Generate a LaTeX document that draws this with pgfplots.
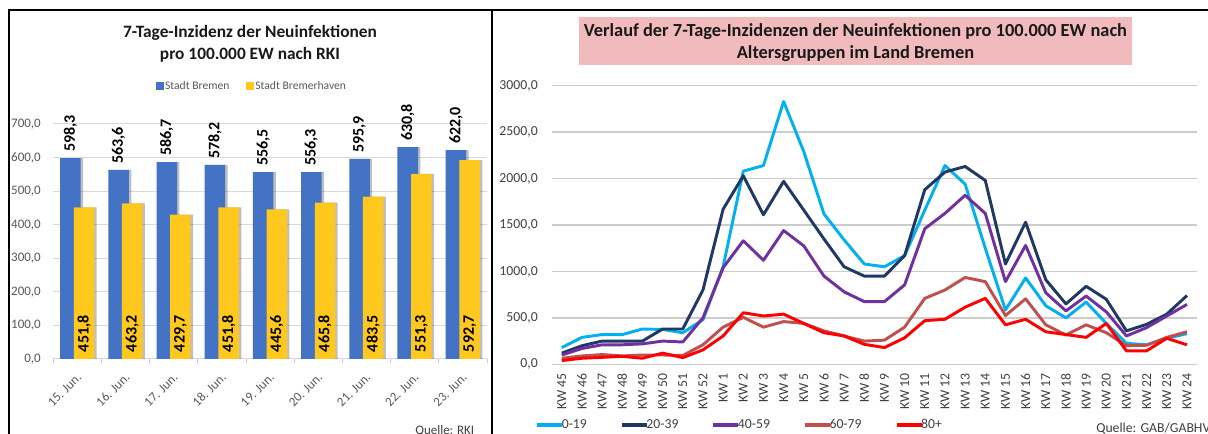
\documentclass[border=0pt]{standalone}
\usepackage{fontspec}
\setmainfont{Carlito}
\usepackage{pgfplots}
\usepackage{pgfplotstable}
\pgfplotsset{compat=1.18}
\usetikzlibrary{shadows}
\definecolor{cblue}{HTML}{4472C4}
\definecolor{cyel}{HTML}{FFC81F}
\definecolor{c1}{HTML}{00B0F0}
\definecolor{c2}{HTML}{1F3864}
\definecolor{c3}{HTML}{7030A0}
\definecolor{c4}{HTML}{C0504D}
\definecolor{c5}{HTML}{FF0000}
\definecolor{txt}{HTML}{595959}
\definecolor{txtb}{HTML}{404040}
\definecolor{pinkbox}{HTML}{F1BBBD}

\pgfplotstableread{
x bremen bhv z
0 598.3 451.8 0
1 563.6 463.2 0
2 586.7 429.7 0
3 578.2 451.8 0
4 556.5 445.6 0
5 556.3 465.8 0
6 595.9 483.5 0
7 630.8 551.3 0
8 622.0 592.7 0
}\tleft

\pgfplotstableread{
i a b c d e
0 180 120 100 65 40
1 290 200 170 90 65
2 320 250 210 105 75
3 320 250 210 90 85
4 380 250 220 100 65
5 375 380 250 100 120
6 340 380 240 95 72
7 480 800 500 210 155
8 1050 1670 1040 400 305
9 2080 2030 1330 505 555
10 2140 1610 1120 400 520
11 2830 1970 1440 460 540
12 2290 1660 1275 440 440
13 1620 1350 950 360 340
14 1340 1050 780 305 305
15 1080 950 675 250 215
16 1050 950 675 260 180
17 1170 1170 855 400 285
18 1660 1880 1460 710 470
19 2140 2070 1625 800 485
20 1940 2130 1820 935 615
21 1250 1980 1625 890 710
22 585 1080 890 525 425
23 930 1530 1280 705 485
24 630 910 770 425 350
25 500 650 575 315 320
26 670 840 735 425 290
27 440 700 565 340 440
28 225 360 305 200 145
29 210 430 395 205 145
30 280 540 520 290 280
31 330 740 645 350 210
}\tright

\begin{document}
\begin{tikzpicture}[x=0.75pt,y=0.75pt]
\useasboundingbox (0,0) rectangle (1208,434);
\fill[white] (0,0) rectangle (1208,434);

% ---------------- left chart
\begin{axis}[
  at={(39.975pt,56.25pt)}, anchor=south west, scale only axis,
  width=325.3pt, height=176.25pt,
  xmin=-0.5, xmax=8.5, ymin=0, ymax=700,
  xtick={0,...,8},
  xticklabels={15. Jun.,16. Jun.,17. Jun.,18. Jun.,19. Jun.,20. Jun.,21. Jun.,22. Jun.,23. Jun.},
  ytick={0,100,...,700},
  minor xtick={-0.5,0.5,...,8.5},
  xtick pos=bottom, ytick pos=left,
  tick align=outside,
  major tick length=0pt, minor tick length=3pt,
  minor tick style={draw=gray!40, line width=0.75pt},
  axis line style={draw=none},
  ymajorgrids, grid style={draw=gray!30, line width=0.75pt},
  clip=false,
  /pgf/number format/.cd, fixed, fixed zerofill, precision=1, use comma, 1000 sep={}, assume math mode=true, /pgfplots/.cd,
  tick label style={font=\fontsize{9.75}{11}\selectfont, text=txt},
  yticklabel style={anchor=east, inner sep=0pt, xshift=-9.2pt},
  xticklabel style={xshift=1.5pt, yshift=-12pt, rotate=45, anchor=east, inner sep=0pt},
  legend style={at={(0.236,1.1617)}, anchor=west, draw=none, fill=none, legend columns=-1,
    font=\fontsize{8.7}{10}\selectfont, text=txt, inner sep=0pt,
    /tikz/every even column/.append style={column sep=11pt},
    nodes={inner sep=1.5pt}},
]
\addlegendimage{legend image code/.code={\fill[cblue] (0pt,-2.5pt) rectangle (5pt,2.5pt);}}
\addlegendentry{Stadt Bremen}
\addlegendimage{legend image code/.code={\fill[cyel] (0pt,-2.5pt) rectangle (5pt,2.5pt);}}
\addlegendentry{Stadt Bremerhaven}
\addplot[ybar, bar width=15.4pt, bar shift=-5.25pt, fill=cblue, draw=none, forget plot,
  drop shadow={shadow xshift=1.8pt, shadow yshift=0pt, opacity=0.25, fill=black}]
  table[x=x,y=bremen]{\tleft};
\addplot[ybar, bar width=15.4pt, bar shift=5pt, fill=cyel, draw=none, forget plot,
  drop shadow={shadow xshift=1.8pt, shadow yshift=0pt, opacity=0.25, fill=black}]
  table[x=x,y=bhv]{\tleft};
\addplot[only marks, mark=none, forget plot, nodes near coords, point meta=explicit,
  every node near coord/.append style={xshift=-5.25pt, rotate=90, anchor=west, inner xsep=4.5pt, inner ysep=0pt,
    font=\bfseries\fontsize{12}{14}\selectfont, text=black}]
  table[x=x,y=bremen,meta=bremen]{\tleft};
\addplot[only marks, mark=none, forget plot, nodes near coords, point meta=explicit,
  every node near coord/.append style={xshift=5pt, rotate=90, anchor=west, inner xsep=5pt, inner ysep=0pt,
    font=\bfseries\fontsize{12}{14}\selectfont, text=black}]
  table[x=x,y=z,meta=bhv]{\tleft};
\end{axis}

% ---------------- right chart
\begin{axis}[
  at={(413.775pt,52.275pt)}, anchor=south west, scale only axis,
  width=484pt, height=208.95pt,
  xmin=-0.5, xmax=31.5, ymin=0, ymax=3000,
  xtick={0,...,31},
  xticklabels={KW 45,KW 46,KW 47,KW 48,KW 49,KW 50,KW 51,KW 52,KW 1,KW 2,KW 3,KW 4,KW 5,KW 6,KW 7,KW 8,KW 9,KW 10,KW 11,KW 12,KW 13,KW 14,KW 15,KW 16,KW 17,KW 18,KW 19,KW 20,KW 21,KW 22,KW 23,KW 24},
  ytick={0,500,...,3000},
  major tick length=0pt,
  axis line style={draw=none},
  ymajorgrids, grid style={draw=gray!40, line width=1pt},
  clip=false,
  /pgf/number format/.cd, fixed, fixed zerofill, precision=1, use comma, 1000 sep={}, assume math mode=true, /pgfplots/.cd,
  tick label style={font=\fontsize{10.3}{12}\selectfont, text=txtb},
  yticklabel style={anchor=east, inner sep=0pt, xshift=-10.3pt},
  xticklabel style={yshift=-6.5pt, rotate=90, anchor=east, inner sep=0pt},
  legend style={at={(-0.0259,-0.2179)}, anchor=west, draw=none, fill=none, legend columns=-1,
    font=\fontsize{10.3}{12}\selectfont, text=txtb, inner sep=0pt,
    /tikz/every odd column/.append style={column sep=-2.6pt},
    /tikz/every even column/.append style={column sep=24pt},
    nodes={inner sep=0.75pt}},
  legend image code/.code={\draw[#1, line width=3pt] (0pt,0pt) -- (18.75pt,0pt);},
  every axis plot/.append style={line width=2.2pt, line join=round, mark=none},
]
\addplot[c1] table[x=i,y=a]{\tright}; \addlegendentry{0-19}
\addplot[c2] table[x=i,y=b]{\tright}; \addlegendentry{20-39}
\addplot[c3] table[x=i,y=c]{\tright}; \addlegendentry{40-59}
\addplot[c4] table[x=i,y=d]{\tright}; \addlegendentry{60-79}
\addplot[c5] table[x=i,y=e]{\tright}; \addlegendentry{80+}
\end{axis}

% ---------------- titles, sources, frame
\node[font=\bfseries\fontsize{13}{15}\selectfont, text=black!90] at (250,401) {7-Tage-Inzidenz der Neuinfektionen};
\node[font=\bfseries\fontsize{13}{15}\selectfont, text=black!90] at (250,379) {pro 100.000 EW nach RKI};
\fill[pinkbox] (579,417) rectangle (1132,369);
\node[font=\bfseries\fontsize{13.8}{16}\selectfont, text=black!90] at (855.5,402) {Verlauf der 7-Tage-Inzidenzen der Neuinfektionen pro 100.000 EW nach};
\node[font=\bfseries\fontsize{13.8}{16}\selectfont, text=black!90] at (855.5,380) {Altersgruppen im Land Bremen};
\node[font=\fontsize{9.75}{11}\selectfont, text=txtb, anchor=base west, inner sep=0pt] at (415,-1) {Quelle: RKI};
\node[font=\fontsize{10.3}{12}\selectfont, text=txtb, anchor=base west, inner sep=0pt] at (1096,1.5) {Quelle: GAB/GABHV};
\draw[line width=1.1pt, black] (9,0) -- (9,424) -- (1208,424);
\draw[line width=1.1pt, black] (492,0) -- (492,424);
\end{tikzpicture}
\end{document}
